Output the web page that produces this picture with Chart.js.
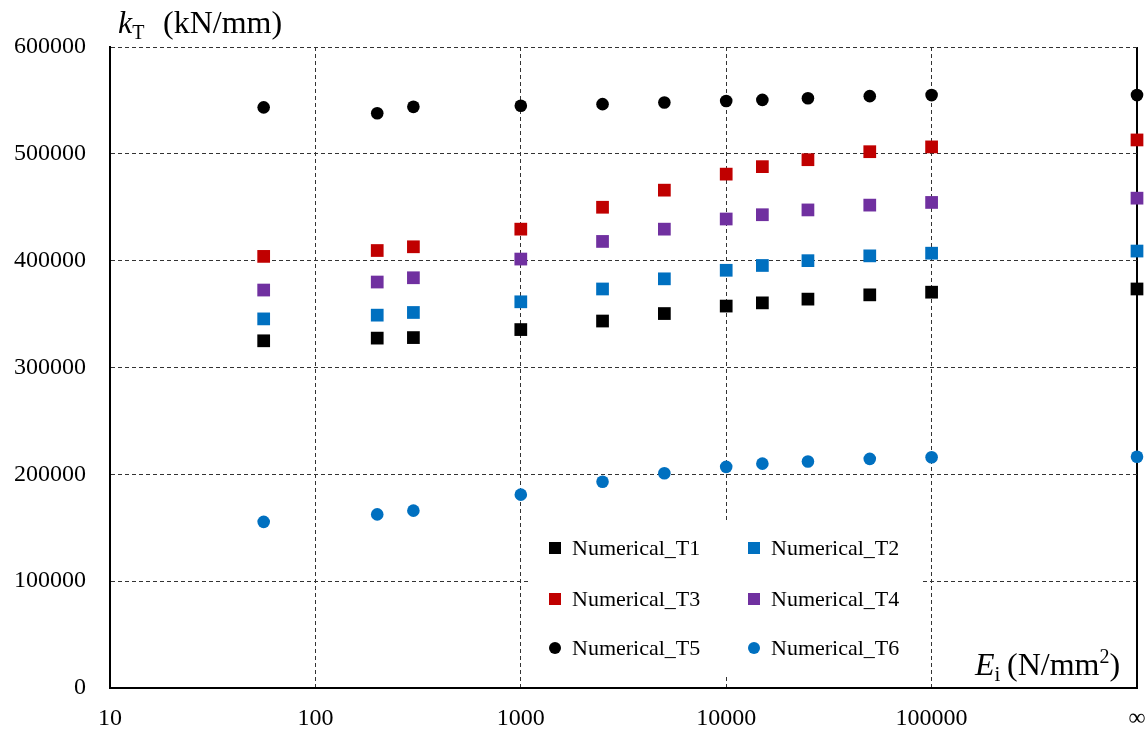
<!DOCTYPE html>
<html>
<head>
<meta charset="utf-8">
<script src="https://cdn.jsdelivr.net/npm/chart.js@4.4.0/dist/chart.umd.min.js"></script>
<style>
  body { margin: 0; background: #fff; }
  #wrap { width: 1147px; height: 731px; }
</style>
</head>
<body>
<div id="wrap"><canvas id="kt"></canvas></div>
<script>
// E_i values (N/mm2); the last one stands for "infinity" and sits at 10^6 on the axis
var modul = [56, 200, 300, 1000, 2500, 5000, 10000, 15000, 25000, 50000, 100000, 1000000];

var t1 = [325000, 327500, 328000, 335500, 343500, 350500, 357500, 360500, 364000, 368000, 370500, 373500];
var t2 = [345500, 349000, 351500, 361500, 373500, 383000, 391000, 395500, 400000, 404500, 407000, 409000];
var t3 = [404000, 409500, 413000, 429500, 450000, 466000, 481000, 488000, 494500, 502000, 506500, 513000];
var t4 = [372500, 380000, 384000, 401500, 418000, 429500, 439000, 443000, 447500, 452000, 454500, 458500];
var t5 = [543500, 538000, 544000, 545000, 546500, 548000, 549500, 550500, 552000, 554000, 555000, 555000];
var t6 = [155500, 162500, 166000, 181000, 193000, 201000, 207000, 210000, 212000, 214500, 216000, 216500];

var nazivi = ["Numerical_T1", "Numerical_T2", "Numerical_T3", "Numerical_T4", "Numerical_T5", "Numerical_T6"];
var boje = ["#000000", "#0070C0", "#C00000", "#7030A0", "#000000", "#0070C0"];
var oblici = ["rect", "rect", "rect", "rect", "circle", "circle"];

var xTicks = [10, 100, 1000, 10000, 100000, 1000000];
var BESKONACNO = 1000000;

var FONT = '"Liberation Serif", "Times New Roman", serif';

function parovi(niz) {
    return modul.map(function(x, i) { return { x: x, y: niz[i] }; });
}

var serije = [t1, t2, t3, t4, t5, t6];
var datasets = serije.map(function(niz, i) {
    return {
        label: nazivi[i],
        data: parovi(niz),
        backgroundColor: boje[i],
        borderWidth: 0,
        pointStyle: oblici[i],
        pointRadius: oblici[i] == "rect" ? 9 : 6.3,
        pointHoverRadius: oblici[i] == "rect" ? 9 : 6.3,
        showLine: false,
        clip: false
    };
});

// legend box inside the plot, drawn by hand
var legendPlugin = {
    id: "legendaUnutra",
    beforeDatasetsDraw: function(chart) {
        var ctx = chart.ctx;
        ctx.save();
        ctx.fillStyle = "#ffffff";
        ctx.fillRect(528, 520, 393, 156);
        ctx.restore();
    },
    afterDatasetsDraw: function(chart) {
        var ctx = chart.ctx;
        var kolone = [555, 754];
        var redovi = [548, 599, 648];
        ctx.save();
        ctx.font = '22px ' + FONT;
        ctx.textBaseline = "middle";
        ctx.textAlign = "left";
        for (var i = 0; i < nazivi.length; i++) {
            var x = kolone[i % 2];
            var y = redovi[Math.floor(i / 2)];
            ctx.fillStyle = boje[i];
            if (oblici[i] == "rect") {
                ctx.fillRect(x - 6, y - 6, 12, 12);
            } else {
                ctx.beginPath();
                ctx.arc(x, y, 6, 0, Math.PI * 2);
                ctx.fill();
            }
            ctx.fillStyle = "#000000";
            ctx.fillText(nazivi[i], x + 17, y + 1);
        }
        ctx.restore();
    }
};

function pisi(ctx, dijelovi, x, y) {
    dijelovi.forEach(function(d) {
        if (d.x !== undefined) x = d.x;
        ctx.font = (d.italic ? "italic " : "") + d.size + "px " + FONT;
        ctx.fillText(d.text, x, y + (d.dy || 0));
        x += ctx.measureText(d.text).width;
    });
}

var naslovPlugin = {
    id: "naslovi",
    afterDraw: function(chart) {
        var ctx = chart.ctx;
        ctx.save();
        ctx.fillStyle = "#000000";
        ctx.textBaseline = "alphabetic";
        ctx.textAlign = "left";
        pisi(ctx, [
            { text: "k", italic: true, size: 32 },
            { text: "T", size: 20, dy: 6 },
            { text: "(kN/mm)", size: 32, x: 163 }
        ], 118, 33);
        pisi(ctx, [
            { text: "E", italic: true, size: 32 },
            { text: "i", size: 21, dy: 6 },
            { text: "(N/mm", size: 32, x: 1007 },
            { text: "2", size: 20, dy: -12 },
            { text: ")", size: 32 }
        ], 975, 675);
        ctx.restore();
    }
};

var ctx = document.getElementById("kt");

var config = {
    type: "scatter",
    data: { datasets: datasets },
    options: {
        animation: false,
        responsive: true,
        maintainAspectRatio: false,
        layout: { padding: { top: 47, right: 10, bottom: 0, left: 0 } },
        plugins: {
            legend: { display: false },
            tooltip: { enabled: false }
        },
        scales: {
            x: {
                type: "logarithmic",
                min: 10,
                max: BESKONACNO,
                afterBuildTicks: function(s) {
                    s.ticks = xTicks.map(function(v) { return { value: v }; });
                },
                afterFit: function(s) {
                    s.height = 43;
                    s.paddingLeft = 0;
                    s.paddingRight = 0;
                },
                ticks: {
                    autoSkip: false,
                    maxRotation: 0,
                    padding: 16,
                    color: "#000000",
                    font: { family: FONT, size: 24 },
                    callback: function(value) {
                        return value == BESKONACNO ? "\u221E" : String(value);
                    }
                },
                grid: {
                    drawTicks: false,
                    color: function(c) {
                        return c.tick && c.tick.value == BESKONACNO ? "#000000" : "#333333";
                    },
                    lineWidth: function(c) {
                        return c.tick && c.tick.value == BESKONACNO ? 2 : 1;
                    }
                },
                border: {
                    color: "#000000",
                    width: 2,
                    dash: function(c) {
                        return c.tick && c.tick.value == BESKONACNO ? [] : [4, 3];
                    }
                }
            },
            y: {
                min: 0,
                max: 600000,
                afterFit: function(s) {
                    s.width = 110;
                    s.paddingTop = 0;
                    s.paddingBottom = 0;
                },
                ticks: {
                    stepSize: 100000,
                    padding: 24,
                    color: "#000000",
                    font: { family: FONT, size: 24 },
                    callback: function(value) { return String(value); }
                },
                grid: {
                    drawTicks: false,
                    color: "#333333",
                    lineWidth: 1
                },
                border: {
                    color: "#000000",
                    width: 2,
                    dash: [4, 3]
                }
            }
        }
    },
    plugins: [legendPlugin, naslovPlugin]
};

var chart = new Chart(ctx, config);
</script>
</body>
</html>
